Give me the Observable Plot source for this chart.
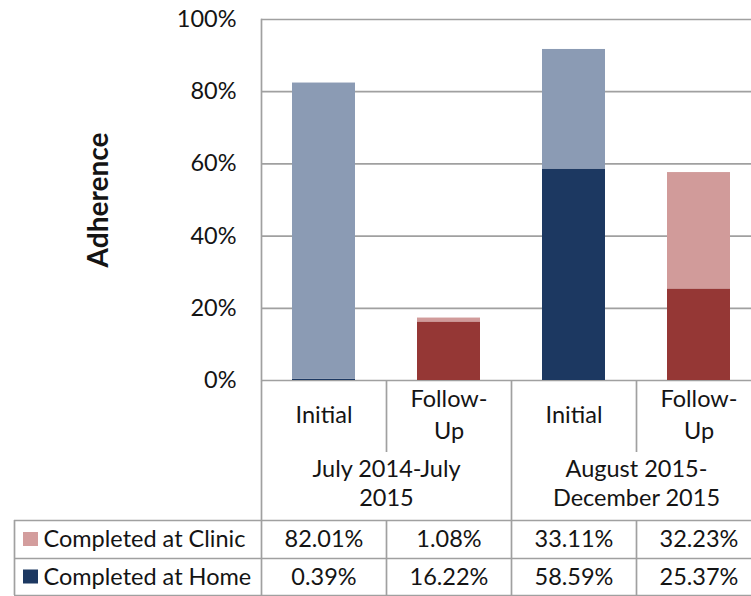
<!DOCTYPE html>
<html>
<head>
<meta charset="utf-8">
<script src="https://cdn.jsdelivr.net/npm/d3@7"></script>
<script src="https://cdn.jsdelivr.net/npm/@observablehq/plot@0.6"></script>
<style>
  html, body { margin: 0; padding: 0; background: #fff; }
  #wrap { width: 751px; height: 596px; overflow: hidden; position: relative; }
  #wrap svg { display: block; }
</style>
</head>
<body>
<div id="wrap"></div>
<script>
// Study periods and visits (columns of the data table)
const periods = ["July 2014-July 2015", "August 2015-December 2015"];
const periodLabels = ["July 2014-July\n2015", "August 2015-\nDecember 2015"];
const visits = ["Initial", "Follow-Up"];
const visitLabels = ["Initial", "Follow-\nUp"];

// Adherence (%) per column, in order: Jul14 Initial, Jul14 Follow-Up, Aug15 Initial, Aug15 Follow-Up
const seriesNames = ["Completed at Clinic", "Completed at Home"];
const clinic = [82.01, 1.08, 33.11, 32.23];
const home = [0.39, 16.22, 58.59, 25.37];

// Y axis ticks (%)
const yTicks = [0, 20, 40, 60, 80, 100];

// Colours: each series is shaded by visit type
const palette = {
  "Completed at Clinic": {"Initial": "#8b9bb4", "Follow-Up": "#d19b9a"},
  "Completed at Home": {"Initial": "#1c3861", "Follow-Up": "#953735"}
};
const swatch = {"Completed at Clinic": "#d39d9d", "Completed at Home": "#1c3861"};
const lineColor = "#a0a0a0";
const textColor = "#141414";
const font = "Lato, 'Open Sans', sans-serif";
const fs = 23.5;

const cols = periods.flatMap((p, pi) => visits.map((v, vi) => ({
  key: `${pi}-${vi}`, period: p, visit: v, visitLabel: visitLabels[vi], i: pi * visits.length + vi
})));

// Home is stacked at the bottom, clinic on top
const stacked = cols.flatMap(c => [
  {key: c.key, visit: c.visit, series: seriesNames[1], value: home[c.i] / 100},
  {key: c.key, visit: c.visit, series: seriesNames[0], value: clinic[c.i] / 100}
]);

const chart = Plot.plot({
  width: 762,
  height: 381,
  marginLeft: 261,
  marginRight: 1,
  marginTop: 19,
  marginBottom: 1,
  style: {fontFamily: font, fontSize: fs + "px", color: textColor, maxWidth: "none", overflow: "visible", background: "transparent"},
  x: {type: "band", domain: cols.map(d => d.key), paddingInner: 0.5, paddingOuter: 0.25, axis: null},
  y: {domain: [0, 1], axis: null},
  color: {type: "identity"},
  marks: [
    Plot.ruleY(yTicks.map(t => t / 100), {stroke: lineColor, strokeWidth: 1.7}),
    Plot.frame({anchor: "left", stroke: lineColor, strokeWidth: 1.7}),
    Plot.barY(stacked, {
      x: "key", y: "value", z: "series",
      fill: d => palette[d.series][d.visit],
      inset: 0
    }),
    Plot.axisY(yTicks.map(t => t / 100), {
      tickSize: 0, tickPadding: 25, tickFormat: d3.format(".0%"),
      fontSize: fs, fill: textColor, label: null
    }),
    Plot.text(["Adherence"], {
      frameAnchor: "left", textAnchor: "middle", rotate: -90, dx: -162,
      fontWeight: "bold", fontSize: 28, fill: textColor
    })
  ]
});

// Column edges of the data table follow the bar scale
const xs = chart.scale("x");
const gap = (xs.step - xs.bandwidth) / 2;
const edges = cols.map(c => xs.apply(c.key) - gap);
edges.push(edges[edges.length - 1] + xs.step);
const centers = cols.map((c, i) => (edges[i] + edges[i + 1]) / 2);

// Table rows (pixel extents inside the table)
const legendLeft = 14;
const subRow = [0, 71];
const groupRow = [71, 139];
const bodyRows = [[139, 177], [177, 214]];
const right = edges[edges.length - 1];

const hLines = [
  {x1: legendLeft, x2: right, y: bodyRows[0][0]},
  {x1: legendLeft, x2: right, y: bodyRows[1][0]},
  {x1: legendLeft, x2: right, y: bodyRows[1][1]}
];
const vLines = [
  {x: legendLeft, y1: bodyRows[0][0], y2: bodyRows[1][1]},
  ...edges.map((e, i) => {
    const periodEdge = i % visits.length === 0;
    return periodEdge
      ? [{x: e, y1: subRow[0], y2: bodyRows[1][1]}]
      : [{x: e, y1: subRow[0], y2: subRow[1]}, {x: e, y1: bodyRows[0][0], y2: bodyRows[1][1]}];
  }).flat()
];

const visitText = cols.map((c, i) => ({x: centers[i], y: (subRow[0] + subRow[1]) / 2 - 4, text: c.visitLabel}));
const periodText = periods.map((p, pi) => ({
  x: (edges[pi * 2] + edges[pi * 2 + 2]) / 2,
  y: (groupRow[0] + groupRow[1]) / 2 - 4,
  text: periodLabels[pi]
}));
const fmt = v => v.toFixed(2) + "%";
const cellText = [clinic, home].flatMap((vals, r) => vals.map((v, i) => ({
  x: centers[i], y: (bodyRows[r][0] + bodyRows[r][1]) / 2, text: fmt(v)
})));
const legendRows = seriesNames.map((s, r) => ({
  name: s, color: swatch[s],
  y: (bodyRows[r][0] + bodyRows[r][1]) / 2
}));

const table = Plot.plot({
  width: 762,
  height: 216,
  margin: 0,
  style: {fontFamily: font, fontSize: fs + "px", color: textColor, maxWidth: "none", overflow: "visible", background: "transparent"},
  x: {type: "identity", axis: null},
  y: {type: "identity", axis: null},
  color: {type: "identity"},
  marks: [
    Plot.ruleY(hLines, {x1: "x1", x2: "x2", y: "y", stroke: lineColor, strokeWidth: 1.7}),
    Plot.ruleX(vLines, {x: "x", y1: "y1", y2: "y2", stroke: lineColor, strokeWidth: 1.7}),
    Plot.text(visitText, {x: "x", y: "y", text: "text", fontSize: fs, lineHeight: 1.36, fill: textColor}),
    Plot.text(periodText, {x: "x", y: "y", text: "text", fontSize: fs, lineHeight: 1.23, fill: textColor}),
    Plot.text(cellText, {x: "x", y: "y", text: "text", fontSize: fs, fill: textColor}),
    Plot.rect(legendRows, {x1: 23, x2: 38, y1: d => d.y - 7, y2: d => d.y + 7, fill: "color"}),
    Plot.text(legendRows, {x: 43, y: "y", text: "name", textAnchor: "start", fontSize: fs, fill: textColor})
  ]
});

const wrap = document.getElementById("wrap");
wrap.appendChild(chart);
wrap.appendChild(table);
</script>
</body>
</html>
